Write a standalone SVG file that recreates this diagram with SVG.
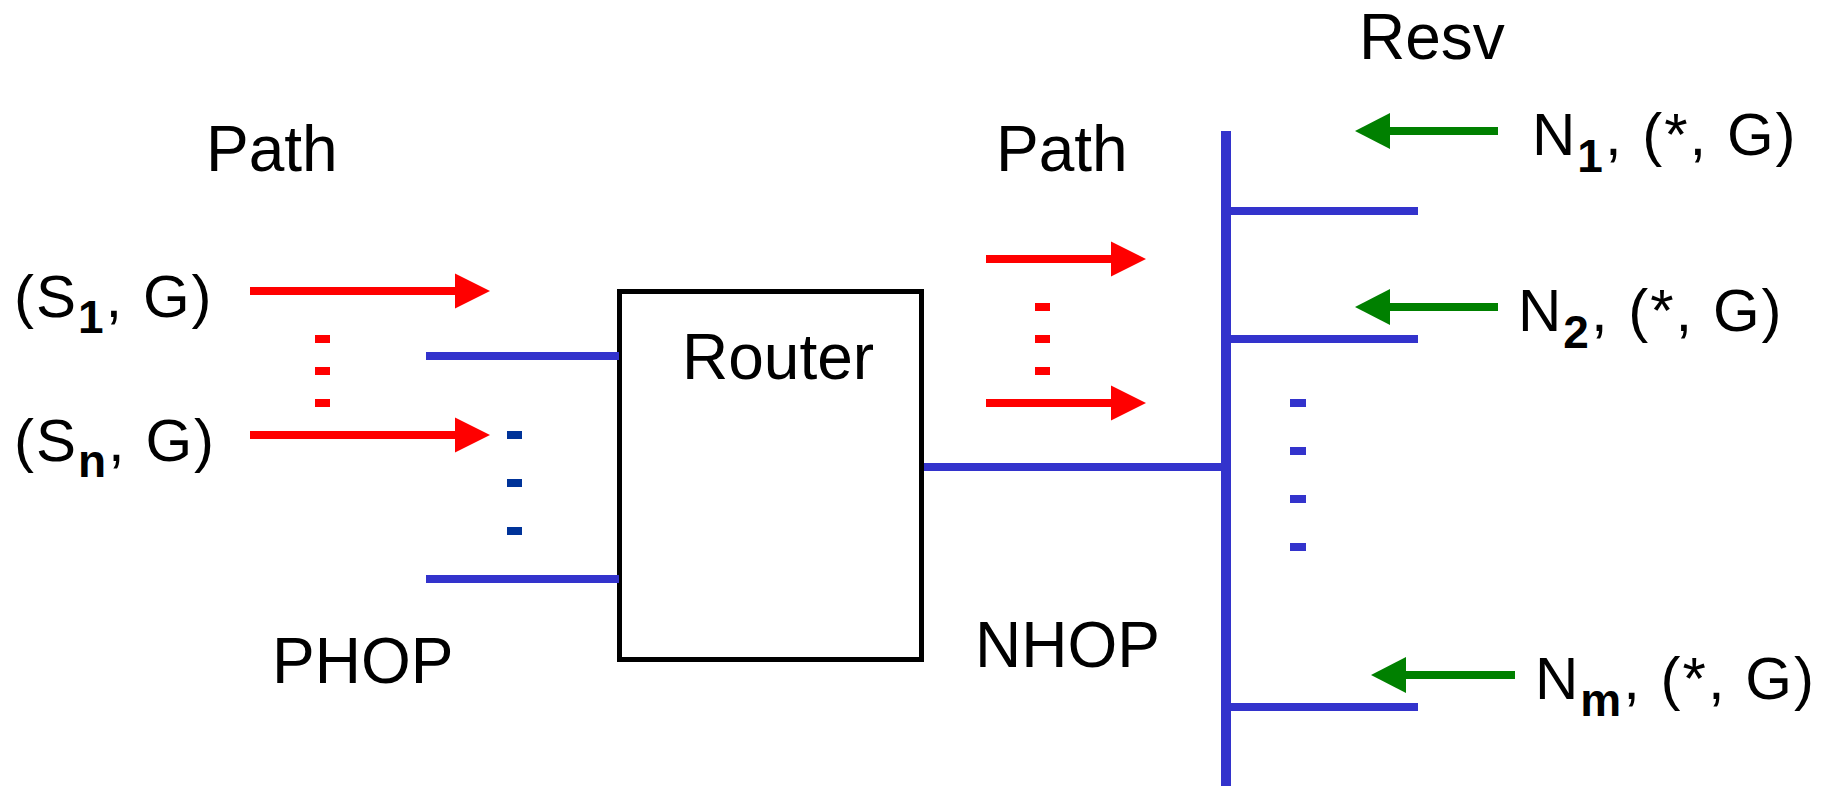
<svg xmlns="http://www.w3.org/2000/svg" width="1835" height="786" viewBox="0 0 1835 786">
<style>
text{font-family:"Liberation Sans",Arial,sans-serif;font-size:64px;fill:#000}
.lbl{font-size:60px;letter-spacing:2px}
.sub{font-size:46px;font-weight:bold}
.red{stroke:#FF0000;stroke-width:8;fill:none}
.grn{stroke:#008000;stroke-width:8;fill:none}
.blu{stroke:#3333CC;stroke-width:8;fill:none}
.bus{stroke:#3333CC;stroke-width:10;fill:none}
.rdot{fill:#FF0000}
.bdot{fill:#003399}
.ldot{fill:#3333CC}
</style>
<defs>
<marker id="rh" markerUnits="userSpaceOnUse" markerWidth="36" markerHeight="36" refX="0" refY="17.5" orient="auto" overflow="visible">
<path d="M0,0 L35,17.5 L0,35 Z" fill="#FF0000"/>
</marker>
<marker id="gh" markerUnits="userSpaceOnUse" markerWidth="36" markerHeight="37" refX="0" refY="18" orient="auto" overflow="visible">
<path d="M0,0 L35,18 L0,36 Z" fill="#008000"/>
</marker>
</defs>
<rect width="1835" height="786" fill="#fff"/>

<g id="router">
<rect x="619.5" y="291.5" width="302" height="368" fill="#fff" stroke="#000" stroke-width="5"/>
<text x="682" y="379">Router</text>
</g>

<g id="labels">
<text id="path-left" x="206" y="171">Path</text>
<text id="path-right" x="996" y="171">Path</text>
<text id="resv" x="1359" y="59">Resv</text>
<text id="phop" x="272" y="683">PHOP</text>
<text id="nhop" x="975" y="667">NHOP</text>
<text id="s1" class="lbl" x="14" y="317">(S<tspan class="sub" dy="16">1</tspan><tspan dy="-16">, G)</tspan></text>
<text id="sn" class="lbl" x="14" y="461">(S<tspan class="sub" dy="16">n</tspan><tspan dy="-16">, G)</tspan></text>
<text id="n1" class="lbl" x="1532" y="155">N<tspan class="sub" dy="17">1</tspan><tspan dy="-17">, (*, G)</tspan></text>
<text id="n2" class="lbl" x="1518" y="331">N<tspan class="sub" dy="17">2</tspan><tspan dy="-17">, (*, G)</tspan></text>
<text id="nm" class="lbl" x="1535" y="699">N<tspan class="sub" dy="17">m</tspan><tspan dy="-17">, (*, G)</tspan></text>
</g>

<g id="connectors">
<line class="blu" x1="426" y1="356" x2="619" y2="356"/>
<line class="blu" x1="426" y1="579" x2="619" y2="579"/>
<line class="blu" x1="924" y1="467" x2="1226" y2="467"/>
<line class="bus" x1="1226" y1="131" x2="1226" y2="786"/>
<line class="blu" x1="1226" y1="211" x2="1418" y2="211"/>
<line class="blu" x1="1226" y1="339" x2="1418" y2="339"/>
<line class="blu" x1="1226" y1="707" x2="1418" y2="707"/>

<line class="red" x1="250" y1="291" x2="455" y2="291" marker-end="url(#rh)"/>
<line class="red" x1="250" y1="435" x2="455" y2="435" marker-end="url(#rh)"/>
<line class="red" x1="986" y1="259" x2="1111" y2="259" marker-end="url(#rh)"/>
<line class="red" x1="986" y1="403" x2="1111" y2="403" marker-end="url(#rh)"/>

<line class="grn" x1="1498" y1="131" x2="1390" y2="131" marker-end="url(#gh)"/>
<line class="grn" x1="1498" y1="307" x2="1390" y2="307" marker-end="url(#gh)"/>
<line class="grn" x1="1515" y1="675" x2="1406" y2="675" marker-end="url(#gh)"/>
</g>

<g id="dots">
<rect class="rdot" x="315" y="335" width="15" height="8"/>
<rect class="rdot" x="315" y="367" width="15" height="8"/>
<rect class="rdot" x="315" y="399" width="15" height="8"/>
<rect class="rdot" x="1035" y="303" width="15" height="8"/>
<rect class="rdot" x="1035" y="335" width="15" height="8"/>
<rect class="rdot" x="1035" y="367" width="15" height="8"/>
<rect class="bdot" x="507" y="431" width="15" height="8"/>
<rect class="bdot" x="507" y="479" width="15" height="8"/>
<rect class="bdot" x="507" y="527" width="15" height="8"/>
<rect class="ldot" x="1290" y="399" width="16" height="8"/>
<rect class="ldot" x="1290" y="447" width="16" height="8"/>
<rect class="ldot" x="1290" y="495" width="16" height="8"/>
<rect class="ldot" x="1290" y="543" width="16" height="8"/>
</g>
</svg>
